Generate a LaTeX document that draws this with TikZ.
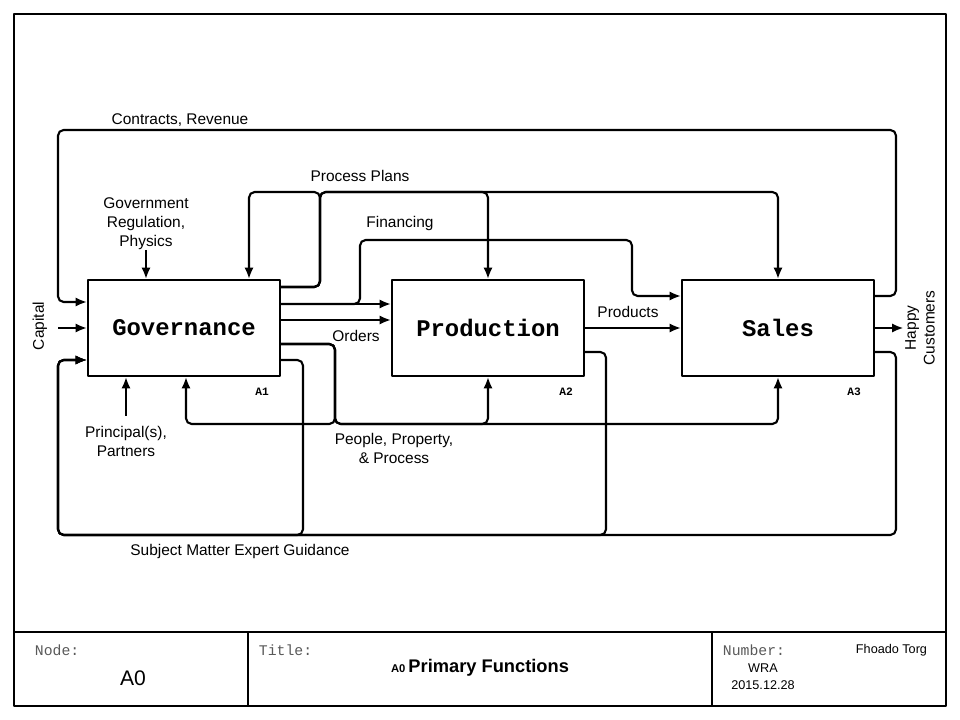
\documentclass[tikz,border=0pt]{standalone}
\usepackage{fontspec}
\setmainfont{Liberation Sans}
\setmonofont{Liberation Mono}
\usetikzlibrary{arrows.meta}

\tikzset{
  fn/.style={draw,line width=1.5pt,minimum width=4.8cm,minimum height=2.4cm,font=\ttfamily\bfseries\fontsize{17}{20}\selectfont},
  flow/.style={line width=1.5pt,rounded corners=4pt},
  lbl/.style={font=\fontsize{11}{13.5}\selectfont,align=center,inner sep=1pt},
  tag/.style={font=\ttfamily\bfseries\fontsize{8}{9}\selectfont},
  hd/.style={font=\ttfamily\fontsize{10.5}{12}\selectfont,text=black!65,anchor=west},
  cell/.style={font=\fontsize{9}{12}\selectfont,align=center},
}

\begin{document}
\begin{tikzpicture}[x=0.025cm,y=-0.025cm,line join=round,>={Latex[length=8pt,width=6.5pt]}]
\useasboundingbox (0,0) rectangle (960,720);
\draw[line width=2pt] (14,14) rectangle (946,706);
\draw[line width=1.6pt] (14,632) -- (946,632) (248,632) -- (248,706) (712,632) -- (712,706);

% activity boxes
\node[fn] (gov) at (184,328) {Governance};
\node[fn] (prod) at (488,328) {Production};
\node[fn] (sales) at (778,328) {Sales};
\node[tag] (tagA1) at (262,392) {A1};
\node[tag] (tagA2) at (566,392) {A2};
\node[tag] (tagA3) at (854,392) {A3};

% arrow labels
\node[lbl] (contracts) at (180,120) {Contracts, Revenue};
\node[lbl] (plans) at (360,176) {Process Plans};
\node[lbl] (reg) at (146,224) {Government\\Regulation,\\Physics};
\node[lbl] (fin) at (400,224) {Financing};
\node[lbl] (orders) at (356,336) {Orders};
\node[lbl] (products) at (628,312) {Products};
\node[lbl] (prin) at (126,441) {Principal(s),\\Partners};
\node[lbl] (ppp) at (394,448) {People, Property,\\\& Process};
\node[lbl] (sme) at (240,552) {Subject Matter Expert Guidance};
\node[lbl,rotate=90] (capital) at (40,326) {Capital};
\node[lbl,rotate=90] (happy) at (920,328) {Happy\\Customers};

\coordinate (capSrc) at (58,328);
\coordinate (regSrc) at (146,250);
\coordinate (prinSrc) at (126,416);

% inputs and controls
\draw[flow,->] (capSrc) -- (capSrc -| gov.west);
\draw[flow,->] (regSrc) -- (regSrc |- gov.north);
\draw[flow,->] (prinSrc) -- (prinSrc |- gov.south);
\draw[flow,->] (sales.east |- 0,296) -| (896,130) -| (58,302) -- (gov.west |- 0,302);

% process plans
\draw[flow,->] (gov.east |- 0,287) -| (320,192) -| (249,0 |- gov.north);
\draw[flow,->] (gov.east |- 0,287) -| (320,192) -| (prod.north);
\draw[flow,->] (gov.east |- 0,287) -| (320,192) -| (sales.north);

% financing, orders, products
\draw[flow,->] (gov.east |- 0,304) -- (prod.west |- 0,304);
\draw[flow,->] (gov.east |- 0,304) -| (360,240) -| (632,296) -- (sales.west |- 0,296);
\draw[flow,->] (gov.east |- 0,320) -- (prod.west |- 0,320);
\draw[flow,->] (prod.east) -- (sales.west);
\draw[flow,->] (sales.east) -- (happy.north);

% people, property, process
\draw[flow,->] (gov.east |- 0,344) -| (335,424) -| (186,0 |- gov.south);
\draw[flow,->] (gov.east |- 0,344) -| (335,424) -| (prod.south);
\draw[flow,->] (gov.east |- 0,344) -| (335,424) -| (sales.south);

% expert guidance
\draw[flow,->] (sales.east |- 0,352) -| (896,535) -| (58,360) -- (gov.west |- 0,360);
\draw[flow,->] (prod.east |- 0,352) -| (606,535) -| (58,360) -- (gov.west |- 0,360);
\draw[flow,->] (gov.east |- 0,360) -| (303,535) -| (58,360) -- (gov.west |- 0,360);

% title block
\node[hd] (nodeHd) at (30,650) {Node:};
\node[font=\fontsize{15}{18}\selectfont] (nodeNo) at (133,678) {A0};
\node[hd] (titleHd) at (254,650) {Title:};
\node[font=\bfseries\fontsize{13}{15}\selectfont] (title) at (480,668) {{\fontsize{8}{9}\selectfont A0}\,Primary Functions};
\node[hd] (numHd) at (718,650) {Number:};
\node[cell,anchor=east] (author) at (932,650) {Fhoado Torg};
\node[cell] (num) at (763,677) {WRA\\2015.12.28};
\end{tikzpicture}
\end{document}
